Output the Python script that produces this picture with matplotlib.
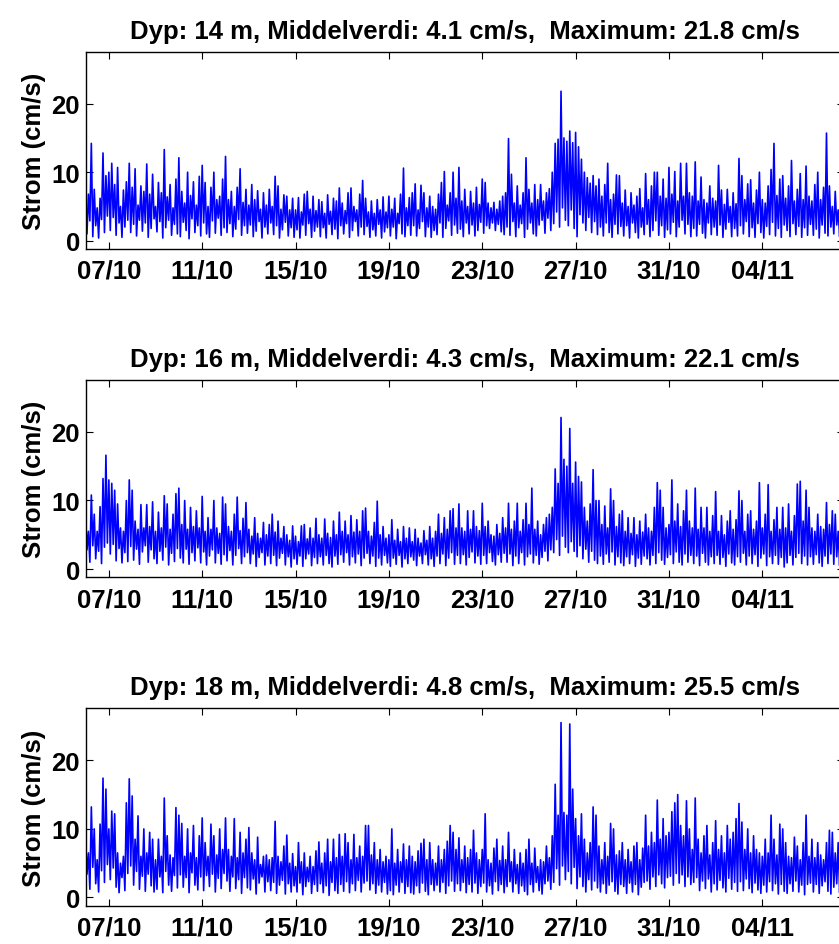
import numpy as np
import matplotlib
matplotlib.use("Agg")
import matplotlib.pyplot as plt
import matplotlib.dates as mdates
from datetime import datetime, timedelta

plt.rcParams["font.family"] = ["Liberation Sans", "DejaVu Sans"]
plt.rcParams["font.weight"] = "bold"

# 3-hour bins from 06/10 00:00, peak (hi) and trough (lo) speed in each bin, cm/s
start = datetime(2013, 10, 6)

depths = [14, 16, 18]
means = [4.1, 4.3, 4.8]

hi_14 = [
    5.5, 6.8, 14.2, 7.5, 4.8, 6.2, 12.8, 9.5,
    10.0, 11.3, 8.2, 10.7, 5.0, 7.4, 8.6, 11.3,
    7.8, 10.5, 5.2, 8.0, 7.2, 11.2, 6.8, 9.7,
    5.0, 8.5, 7.0, 13.3, 6.4, 8.2, 4.8, 9.0,
    12.1, 7.2, 5.5, 10.0, 6.6, 8.6, 5.2, 9.4,
    11.0, 8.5, 5.0, 7.8, 10.0, 6.0, 6.5, 9.0,
    12.3, 6.0, 7.2, 5.0, 7.8, 10.5, 5.6, 7.5,
    5.2, 8.2, 6.0, 7.3, 4.6, 7.0, 5.2, 7.5,
    5.0, 9.4, 8.0, 4.6, 6.7, 6.5, 4.5, 6.2,
    4.5, 6.3, 4.2, 6.8, 7.2, 4.6, 6.5, 4.4,
    6.0, 5.7, 4.0, 6.7, 4.3, 6.2, 5.8, 7.7,
    5.5, 4.4, 7.0, 7.7, 5.0, 4.5, 6.8, 8.8,
    6.2, 4.2, 5.8, 4.0, 6.0, 4.5, 6.4, 4.2,
    6.5, 4.6, 6.2, 4.0, 6.8, 10.6, 4.8, 6.3,
    7.0, 8.3, 4.5, 8.1, 7.0, 4.8, 6.5, 5.0,
    4.6, 6.8, 8.5, 10.1, 5.2, 7.0, 10.0, 6.2,
    10.7, 5.8, 7.5, 5.0, 7.2, 5.5, 7.8, 5.3,
    9.0, 8.5, 5.5, 4.8, 5.6, 4.6, 5.8, 6.5,
    7.0, 14.9, 9.7, 5.5, 8.0, 5.2, 7.0, 12.1,
    7.5, 5.5, 8.2, 6.0, 8.2, 5.8, 7.0, 7.6,
    10.0, 14.2, 14.8, 21.8, 15.0, 14.5, 16.0, 14.3,
    15.8, 13.7, 11.9, 10.0, 9.2, 8.4, 9.5, 8.0,
    9.0, 6.5, 8.2, 11.3, 6.0, 6.8, 9.6, 9.5,
    5.5, 7.4, 5.0, 7.0, 5.2, 6.5, 7.6, 4.8,
    9.8, 6.0, 8.0, 10.0, 10.0, 6.5, 9.0, 6.2,
    10.7, 6.8, 10.1, 5.8, 11.3, 6.5, 11.3, 7.0,
    6.5, 11.5, 5.8, 9.3, 6.0, 5.5, 8.0, 6.2,
    5.8, 11.0, 7.4, 5.3, 7.5, 5.0, 7.0, 5.4,
    12.0, 9.5, 6.0, 8.3, 8.9, 5.5, 7.4, 10.0,
    6.0, 5.5, 8.0, 10.4, 14.2, 6.6, 9.0, 9.5,
    6.2, 8.0, 11.7, 5.8, 7.5, 9.8, 6.0, 10.9,
    6.5, 5.8, 8.2, 10.0, 6.0, 7.8, 15.7, 8.0,
    5.0, 7.2, 4.5, 6.5,
]
lo_14 = [
    1.0, 2.9, 0.6, 2.2, 0.4, 3.1, 1.2, 3.6,
    1.5, 3.4, 0.8, 2.6, 0.5, 2.0, 3.0, 1.2,
    2.4, 0.7, 3.0, 1.4, 2.6, 0.5, 1.8, 3.2,
    1.3, 2.8, 0.4, 1.9, 3.0, 0.8, 2.4, 1.0,
    0.6, 2.7, 1.5, 0.3, 3.2, 1.2, 2.2, 0.7,
    2.6, 1.0, 0.5, 2.9, 1.1, 3.3, 0.8, 1.9,
    1.2, 2.5, 0.6, 1.7, 3.1, 0.8, 2.2, 1.1,
    2.3, 0.6, 1.4, 2.8, 0.4, 2.0, 1.0, 2.6,
    0.9, 2.2, 0.4, 1.6, 2.7, 0.7, 1.9, 0.5,
    1.6, 0.4, 2.3, 0.8, 2.5, 0.5, 1.4, 2.0,
    0.6, 1.9, 0.4, 2.4, 0.9, 1.7, 0.3, 2.2,
    1.0, 2.5, 0.5, 1.5, 2.8, 0.7, 2.0, 0.9,
    2.1, 0.5, 1.6, 0.7, 2.4, 0.4, 1.3, 1.9,
    0.7, 2.0, 0.3, 2.5, 1.0, 0.6, 2.2, 0.8,
    2.2, 0.7, 1.8, 2.8, 0.6, 2.0, 0.5, 1.5,
    0.9, 2.6, 0.5, 1.8, 2.9, 0.8, 2.3, 1.1,
    1.7, 0.6, 2.6, 1.0, 2.3, 0.7, 1.5, 2.7,
    1.1, 2.2, 1.8, 2.6, 1.5, 2.4, 1.3, 0.9,
    2.0, 0.8, 2.8, 0.6, 1.9, 2.5, 0.5, 1.7,
    2.6, 1.0, 0.7, 2.3, 3.0, 1.1, 3.3, 1.5,
    2.5, 4.2, 2.0, 4.8, 3.0, 2.2, 4.5, 1.8,
    0.6, 3.8, 2.6, 1.5, 3.4, 1.2, 2.8, 0.9,
    2.0, 0.7, 2.6, 1.2, 0.5, 2.4, 1.0, 2.1,
    0.7, 2.2, 0.4, 2.6, 1.2, 0.4, 2.0, 0.9,
    2.4, 0.6, 1.5, 2.9, 0.8, 2.2, 0.5, 1.6,
    1.0, 2.7, 0.6, 2.0, 3.0, 1.0, 2.4, 0.6,
    1.8, 0.7, 2.4, 1.1, 0.4, 2.6, 0.9, 2.0,
    0.8, 2.3, 0.5, 1.7, 2.7, 0.6, 1.8, 0.7,
    2.2, 1.0, 2.8, 0.6, 1.9, 0.5, 2.5, 1.2,
    0.4, 2.1, 0.9, 2.7, 0.7, 1.8, 0.5, 2.3,
    1.5, 0.6, 2.5, 0.9, 2.1, 0.5, 1.9, 0.8,
    2.4, 0.8, 1.7, 0.4, 2.3, 1.1, 0.7, 2.0,
    1.0, 2.3, 0.6, 1.7,
]

hi_16 = [
    8.5, 5.5, 10.8, 8.0, 5.5, 9.1, 13.2, 16.6,
    13.0, 12.5, 11.5, 9.5, 6.0, 5.5, 10.0, 13.0,
    11.5, 7.0, 5.8, 9.4, 6.0, 9.4, 6.2, 9.8,
    5.5, 8.3, 6.0, 10.7, 9.5, 5.8, 8.0, 11.0,
    11.8, 6.5, 10.0, 5.8, 9.0, 6.2, 8.5, 6.0,
    10.6, 5.5, 7.5, 5.8, 10.0, 6.0, 5.2, 10.5,
    9.5, 6.2, 5.5, 8.0, 10.5, 5.6, 7.4, 9.7,
    5.8, 4.8, 7.5, 5.2, 4.5, 6.8, 5.0, 6.5,
    8.0, 5.4, 7.0, 4.5, 6.2, 5.0, 4.2, 6.3,
    4.8, 4.0, 6.3, 6.5, 4.4, 6.0, 4.5, 7.4,
    5.0, 4.5, 7.3, 5.2, 4.6, 7.0, 5.0, 8.3,
    5.5, 7.0, 5.0, 7.8, 5.4, 7.2, 5.5, 8.5,
    8.9, 5.5, 4.8, 6.8, 9.9, 5.0, 6.2, 4.5,
    5.0, 7.2, 4.2, 5.8, 4.0, 6.2, 4.5, 6.0,
    4.0, 5.8, 4.5, 3.8, 5.6, 4.2, 6.2, 4.5,
    5.5, 8.0, 5.2, 7.5, 5.8, 8.5, 8.8, 6.0,
    9.5, 6.0, 5.5, 8.5, 5.8, 8.5, 6.2, 5.6,
    9.6, 6.2, 7.0, 5.0, 4.8, 6.5, 5.2, 7.5,
    6.0, 9.6, 5.8, 7.0, 9.6, 5.5, 7.2, 9.6,
    6.5, 11.8, 5.8, 7.0, 5.0, 6.5, 7.5, 8.0,
    9.0, 14.6, 12.5, 22.1, 16.0, 15.0, 20.5, 12.5,
    15.6, 13.5, 12.7, 9.0, 7.0, 9.5, 14.5, 10.0,
    10.0, 6.5, 9.2, 6.0, 11.7, 10.0, 6.2, 8.0,
    8.5, 5.5, 7.5, 5.2, 7.5, 5.0, 7.0, 5.4,
    8.0, 6.0, 5.5, 9.0, 12.6, 11.5, 9.0, 6.0,
    6.5, 13.0, 7.0, 9.5, 6.2, 8.5, 11.5, 7.0,
    6.0, 11.8, 5.8, 9.0, 6.0, 9.0, 5.5, 7.8,
    11.3, 5.5, 7.8, 5.0, 7.0, 8.5, 5.8, 7.2,
    11.4, 10.0, 5.5, 8.0, 8.5, 5.8, 7.0, 12.6,
    6.0, 8.0, 12.3, 5.5, 7.2, 9.0, 5.8, 9.0,
    6.0, 9.5, 5.5, 7.8, 12.4, 12.8, 7.0, 11.5,
    9.0, 6.0, 5.5, 8.0, 6.2, 5.8, 9.7, 6.5,
    8.5, 8.0, 5.5, 7.5,
]
lo_16 = [
    2.8, 1.0, 3.4, 1.5, 2.6, 0.8, 3.2, 3.8,
    2.2, 3.6, 1.2, 3.0, 0.9, 2.4, 1.1, 3.3,
    1.3, 2.9, 0.7, 2.5, 3.4, 1.0, 2.8, 1.5,
    0.8, 2.6, 1.3, 3.2, 0.6, 2.3, 1.1, 3.0,
    1.6, 0.9, 2.9, 0.7, 2.4, 1.2, 3.1, 0.9,
    2.5, 0.6, 1.9, 2.8, 0.9, 2.3, 0.7, 2.1,
    1.2, 2.7, 0.6, 2.0, 3.0, 0.8, 1.8, 2.4,
    0.8, 2.2, 0.4, 1.7, 2.4, 0.6, 1.9, 0.8,
    2.0, 0.5, 1.6, 2.3, 0.6, 1.8, 0.3, 1.5,
    0.7, 1.9, 0.4, 1.5, 2.2, 0.5, 1.7, 0.8,
    1.8, 0.6, 2.0, 0.8, 0.3, 1.9, 0.7, 2.1,
    1.0, 2.4, 0.6, 1.8, 0.9, 2.2, 0.5, 1.6,
    2.3, 0.8, 1.9, 0.4, 1.6, 0.6, 2.0, 0.9,
    0.4, 1.6, 0.7, 2.0, 0.3, 1.5, 0.8, 1.8,
    1.3, 0.5, 1.9, 0.8, 2.1, 0.6, 1.5, 0.4,
    1.9, 0.8, 2.2, 0.5, 1.6, 2.4, 0.7, 2.0,
    0.8, 2.1, 0.6, 1.7, 2.5, 0.9, 1.9, 0.7,
    2.0, 0.8, 2.4, 1.1, 0.6, 2.1, 1.0, 2.3,
    1.0, 2.2, 0.5, 1.9, 0.8, 2.4, 0.6, 1.8,
    2.2, 0.9, 2.0, 0.7, 1.7, 2.6, 1.2, 2.8,
    2.4, 4.3, 2.0, 4.8, 3.2, 2.4, 4.0, 2.6,
    1.8, 3.4, 1.5, 2.9, 1.0, 2.6, 1.3, 0.8,
    1.9, 0.7, 2.2, 1.0, 2.5, 0.6, 1.8, 0.9,
    0.5, 1.8, 0.8, 2.1, 0.4, 1.6, 0.7, 1.9,
    1.5, 0.6, 2.0, 0.8, 2.4, 1.3, 0.7, 1.7,
    2.1, 0.8, 2.5, 1.0, 0.6, 2.2, 1.0, 2.0,
    0.8, 1.9, 0.5, 2.3, 1.0, 0.6, 1.8, 0.8,
    2.0, 0.7, 1.7, 0.4, 2.2, 0.9, 0.6, 1.8,
    1.0, 2.3, 0.6, 1.9, 0.8, 2.1, 0.4, 1.6,
    2.2, 0.5, 1.8, 0.8, 2.0, 0.7, 1.7, 0.3,
    0.9, 2.0, 0.6, 1.7, 2.3, 0.8, 1.9, 0.6,
    1.8, 0.7, 2.1, 0.9, 0.4, 1.9, 0.8, 2.2,
    0.7, 1.8, 0.5, 1.6,
]

hi_18 = [
    9.3, 6.5, 13.2, 10.0, 5.5, 10.7, 17.4, 15.8,
    10.0, 12.6, 12.2, 6.5, 5.0, 6.0, 13.8, 17.3,
    14.8, 8.5, 11.9, 6.0, 10.0, 6.5, 9.5, 8.5,
    5.5, 8.5, 6.0, 14.5, 9.0, 6.2, 5.8, 13.1,
    12.0, 10.8, 6.0, 10.0, 6.5, 10.5, 5.8, 9.0,
    11.6, 8.0, 6.0, 10.7, 9.0, 6.2, 10.0, 7.0,
    11.6, 7.0, 6.0, 11.5, 5.8, 9.5, 6.5, 8.5,
    10.2, 6.5, 5.5, 8.8, 4.8, 6.0, 6.2, 5.5,
    5.8, 11.1, 6.0, 5.2, 7.5, 9.1, 5.0, 6.4,
    4.5, 8.0, 5.2, 6.5, 4.4, 6.0, 4.5, 6.8,
    8.1, 5.0, 6.5, 8.5, 5.2, 8.5, 5.8, 9.2,
    6.0, 9.3, 8.0, 5.5, 9.2, 5.8, 7.5, 6.0,
    10.5, 10.5, 6.2, 8.0, 5.5, 7.0, 5.2, 6.0,
    5.5, 10.0, 5.0, 7.0, 5.2, 7.8, 5.5, 7.5,
    6.0, 5.2, 6.8, 7.9, 8.5, 5.5, 8.0, 5.5,
    5.0, 7.5, 5.5, 7.0, 8.2, 10.5, 9.5, 7.0,
    8.7, 5.5, 7.5, 5.8, 7.0, 9.8, 6.5, 5.5,
    7.0, 12.2, 5.5, 5.0, 7.2, 8.5, 5.4, 7.5,
    5.5, 9.5, 5.2, 7.0, 4.8, 6.5, 5.0, 7.0,
    8.5, 5.0, 7.2, 4.5, 5.5, 5.2, 7.5, 5.8,
    9.0, 16.5, 12.0, 25.5, 12.4, 12.0, 25.3, 15.8,
    11.5, 9.0, 12.2, 8.5, 6.5, 8.0, 13.2, 12.0,
    7.5, 5.5, 8.0, 6.0, 10.8, 10.0, 6.2, 6.8,
    8.0, 5.5, 7.0, 5.2, 7.5, 8.0, 5.5, 7.2,
    12.0, 7.5, 9.5, 8.0, 14.2, 8.5, 11.5, 9.0,
    9.5, 12.5, 13.8, 15.0, 10.5, 9.0, 14.1, 10.0,
    7.0, 14.5, 8.5, 6.5, 9.0, 10.5, 6.2, 8.0,
    11.2, 7.0, 9.0, 6.5, 10.5, 8.5, 9.5, 11.5,
    13.7, 11.0, 7.0, 10.0, 6.5, 9.0, 7.0, 6.5,
    6.0, 8.5, 6.5, 12.0, 8.5, 6.2, 10.7, 10.0,
    8.0, 6.0, 5.8, 8.8, 7.5, 5.5, 8.0, 12.0,
    6.0, 8.5, 5.8, 8.0, 6.2, 5.5, 8.0, 9.8,
    9.5, 6.5, 8.0, 6.0,
]
lo_18 = [
    3.4, 1.2, 4.4, 2.0, 0.8, 3.9, 2.2, 4.8,
    2.6, 4.3, 1.5, 0.7, 2.9, 1.0, 3.5, 4.6,
    1.8, 3.8, 1.2, 3.1, 0.9, 3.4, 1.7, 0.8,
    1.2, 3.0, 0.7, 3.8, 1.8, 0.9, 3.2, 1.4,
    3.3, 1.5, 2.9, 0.7, 3.6, 1.8, 1.1, 3.0,
    1.0, 3.2, 1.6, 3.4, 0.8, 2.8, 1.3, 3.5,
    2.4, 0.9, 3.0, 1.3, 2.6, 0.6, 2.9, 1.4,
    1.1, 2.7, 0.5, 2.1, 3.0, 0.8, 2.3, 1.0,
    2.2, 0.6, 1.8, 2.5, 0.5, 2.0, 0.8, 1.7,
    0.8, 2.1, 0.4, 1.6, 2.3, 0.6, 1.9, 0.9,
    2.0, 0.7, 1.7, 0.3, 2.2, 1.0, 0.6, 1.9,
    0.9, 2.3, 0.7, 2.0, 1.0, 2.5, 0.8, 2.1,
    2.4, 1.1, 2.0, 0.6, 1.8, 0.8, 2.2, 0.5,
    1.0, 0.4, 1.8, 0.8, 2.2, 0.6, 1.6, 0.7,
    0.5, 1.7, 0.7, 2.1, 0.9, 0.4, 1.9, 1.0,
    1.8, 0.8, 2.2, 0.6, 1.7, 2.4, 0.9, 2.0,
    1.0, 2.2, 0.7, 1.9, 0.8, 2.1, 0.6, 1.6,
    2.1, 0.8, 1.7, 0.5, 2.3, 1.0, 1.9, 0.7,
    1.6, 2.3, 0.8, 2.0, 0.6, 1.7, 0.9, 0.4,
    1.9, 0.8, 2.2, 1.0, 0.5, 2.0, 2.4, 1.2,
    2.2, 4.2, 1.8, 4.6, 2.6, 3.8, 2.0, 4.4,
    1.3, 3.0, 1.6, 0.8, 2.6, 1.1, 2.4, 1.4,
    0.8, 2.0, 0.6, 1.8, 2.3, 0.9, 0.5, 1.9,
    1.6, 0.6, 2.1, 0.8, 1.9, 0.4, 1.5, 2.2,
    2.4, 1.2, 3.0, 1.6, 3.3, 2.0, 1.4, 2.9,
    3.1, 1.8, 3.5, 2.1, 3.3, 1.6, 3.0, 1.9,
    2.2, 2.9, 1.0, 2.4, 1.3, 2.7, 0.8, 2.0,
    1.1, 2.5, 1.4, 0.8, 2.8, 1.2, 2.2, 0.9,
    2.3, 1.0, 2.7, 1.3, 0.7, 2.1, 1.1, 0.6,
    1.8, 0.8, 2.3, 1.0, 2.0, 0.5, 1.9, 0.9,
    0.6, 2.0, 0.9, 2.4, 0.8, 1.8, 0.4, 1.9,
    2.1, 0.8, 1.9, 0.6, 1.7, 2.3, 0.9, 0.5,
    1.5, 2.0, 0.7, 1.8,
]

series = [(hi_14, lo_14), (hi_16, lo_16), (hi_18, lo_18)]


def zigzag(hi, lo):
    # peak at the start of each 3 h bin, trough half way through it
    n = len(hi)
    v = np.empty(2 * n)
    v[0::2] = hi
    v[1::2] = lo
    t = [start + timedelta(hours=1.5 * k) for k in range(2 * n)]
    return t, v


fig = plt.figure(figsize=(8.39, 9.45), dpi=100)
fig.patch.set_facecolor("white")

left = 85.5 / 839
width = (844 - 85.5) / 839
bottoms = [1 - 250 / 945, 1 - 578.3 / 945, 1 - 906.7 / 945]
height = 197.5 / 945

xticks = [start + timedelta(days=1 + 4 * k) for k in range(8)]

for i, (hi, lo) in enumerate(series):
    ax = fig.add_axes([left, bottoms[i], width, height])
    t, v = zigzag(hi, lo)
    ax.plot(t, v, color="#0000ff", lw=1.2)

    ax.set_xlim(start, start + timedelta(days=32.5))
    ax.set_ylim(-1.2, 27.6)
    ax.set_yticks([0, 10, 20])
    ax.set_xticks(xticks)
    ax.xaxis.set_major_formatter(mdates.DateFormatter("%d/%m"))

    ax.tick_params(direction="in", length=5, width=0.8, top=True, right=True,
                   labelsize=18.5)
    ax.tick_params(axis="x", pad=7)
    ax.tick_params(axis="y", pad=4)
    for s in ax.spines.values():
        s.set_linewidth(1.0)

    ax.set_ylabel("Strom (cm/s)", fontsize=18.5, fontweight="bold", labelpad=4)
    ax.set_title(
        f"Dyp: {depths[i]} m, Middelverdi: {means[i]:.1f} cm/s,  "
        f"Maximum: {max(hi):.1f} cm/s",
        fontsize=18.5, fontweight="bold", pad=10,
    )

fig.savefig("out.png", dpi=100)
